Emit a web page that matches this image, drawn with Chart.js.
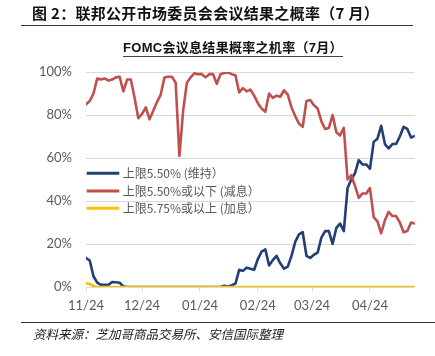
<!DOCTYPE html>
<html><head><meta charset="utf-8">
<script src="https://cdn.jsdelivr.net/npm/chart.js@4/dist/chart.umd.min.js"></script>
<style>
html,body{margin:0;padding:0;background:#fff;}
#wrap{position:relative;width:435px;height:356px;overflow:hidden;}
#title{position:absolute;left:32px;top:3px;font:bold 15px "Noto Sans CJK SC";color:#111;white-space:nowrap;line-height:20px;letter-spacing:0.3px}
#rule1{position:absolute;left:21px;top:24.5px;width:392px;height:1.5px;background:#333}
#sub{position:absolute;left:123px;top:40px;font:bold 13px "Liberation Sans","Noto Sans CJK SC";color:#111;white-space:nowrap;border-bottom:1px solid #444;line-height:16px;letter-spacing:0.3px}
#rule2{position:absolute;left:21px;top:322px;width:414px;height:1px;background:#333}
#foot{position:absolute;left:33px;top:325px;font:italic 12.5px "Noto Sans CJK SC";color:#222;white-space:nowrap;line-height:18px}
canvas{position:absolute;left:0;top:0}
</style></head>
<body>
<div id="wrap">
<canvas id="c" width="435" height="356"></canvas>
<div id="title">图 2：联邦公开市场委员会会议结果之概率（7 月）</div>
<div id="rule1"></div>
<div id="sub">FOMC会议息结果概率之机率（7月）</div>
<div id="rule2"></div>
<div id="foot">资料来源：芝加哥商品交易所、安信国际整理</div>
</div>
<script>
// Days since 2023-11-24, sampled every 2 days
const dayStep = 2;
const tickLabels = ['11/24','12/24','01/24','02/24','03/24','04/24'];
const tickDays = [0, 30, 61, 92, 121, 152];
const seriesNames = ['上限5.50% (维持）', '上限5.50%或以下 (减息）', '上限5.75%或以上 (加息）'];

const holdValues = [13.5,12.3,5,2,1,1,1,2.3,2.2,2,
  0.3,0,0,0,0,0,0,0,0,0,
  0,0,0,0,0,0,0,0,0,0,
  0,0,0,0,0,0,0,0.6,0.2,0.8,
  1.6,8,7.5,9,8.5,8,13,16.5,17.5,10,
  12.5,14.5,11,8.5,9.5,14.5,21,24.5,25.5,14.5,
  13.5,15,16,23,26,26,20,27.5,29.5,26,
  46,50,53,59,57,57,55,67.5,69,75,
  66.5,64.5,66.5,66.5,70,74.5,73.5,69.5,70.3];

const cutValues = [85,86.5,90,97,96.5,97,96,96.5,97.5,97.8,
  91,96.5,96.5,88,78.5,80.5,83.5,78,82,86,
  89.5,97.4,97.8,97.8,95,61,82,95,97.5,99.4,
  99,99,97.5,99,99,94.5,99,99.5,99.8,99,
  98.5,90.5,92.5,91,91.8,89,85.5,83,81.5,90,
  88,89,88.5,91.5,89.5,83.5,79.5,76,74.5,86.5,
  87,84.5,83,77,73.5,74,80,72,70.5,74,
  50,52,47,41.5,43.5,43.5,46,32.5,30.5,25,
  31,35,33,33,30,25.5,26,30,29.5];

const hikeValues = [1.7,1.4,0.5,0,0,0,0,0,0,0,
  0,0,0,0,0,0,0,0,0,0,
  0,0,0,0,0,0,0,0,0,0,
  0,0,0,0,0,0,0,0,0,0,
  0,0,0,0,0,0,0,0,0,0,
  0,0,0,0,0,0,0,0,0,0,
  0,0,0,0,0,0,0,0,0,0,
  0,0,0,0,0,0,0,0,0,0,
  0,0,0,0,0,0,0,0,0];

const yTicks = [0, 20, 40, 60, 80, 100];

const toPts = arr => arr.map((v, i) => ({x: i * dayStep, y: v}));
const colors = ['#223f73', '#c0504d', '#ffc000'];

const innerLegend = {
  id: 'innerLegend',
  afterDraw(chart) {
    const ctx = chart.ctx, a = chart.chartArea;
    const offs = [101.3, 119, 136.3];
    ctx.save();
    chart.data.datasets.forEach((ds, i) => {
      const y = a.top + offs[i];
      ctx.strokeStyle = ds.borderColor;
      ctx.lineWidth = 3;
      ctx.beginPath();
      ctx.moveTo(a.left + 0.7, y);
      ctx.lineTo(a.left + 33.3, y);
      ctx.stroke();
      ctx.fillStyle = '#595959';
      ctx.font = '12px "Noto Sans CJK SC"';
      ctx.textBaseline = 'middle';
      ctx.textAlign = 'left';
      ctx.fillText(ds.label, a.left + 36.7, y + 0.5);
    });
    ctx.restore();
  }
};

new Chart(document.getElementById('c'), {
  type: 'line',
  data: {
    datasets: [
      {label: seriesNames[0], data: toPts(holdValues), borderColor: colors[0], order: 2},
      {label: seriesNames[1], data: toPts(cutValues), borderColor: colors[1], order: 1},
      {label: seriesNames[2], data: toPts(hikeValues), borderColor: colors[2], order: 0}
    ]
  },
  options: {
    responsive: false,
    animation: false,
    devicePixelRatio: 1,
    layout: {padding: {left: 0, top: 72, right: 20.2, bottom: 0}},
    elements: {
      line: {borderWidth: 2.6, tension: 0, fill: false, borderCapStyle: 'round', borderJoinStyle: 'round'},
      point: {radius: 0}
    },
    plugins: {legend: {display: false}, tooltip: {enabled: false}, title: {display: false}},
    scales: {
      x: {
        type: 'linear', min: 0, max: 176,
        afterFit(s) { s.height = 69; },
        afterBuildTicks(s) { s.ticks = tickDays.map(v => ({value: v})); },
        grid: {drawOnChartArea: false, drawTicks: true, tickLength: 4, color: '#d9d9d9'},
        border: {display: true, color: '#d9d9d9', width: 1},
        ticks: {
          autoSkip: false, maxRotation: 0, padding: 7,
          color: '#595959', font: {family: 'Lato', size: 13},
          callback: v => tickLabels[tickDays.indexOf(v)]
        }
      },
      y: {
        min: 0, max: 100,
        afterFit(s) { s.width = 86; },
        afterBuildTicks(s) { s.ticks = yTicks.map(v => ({value: v})); },
        grid: {drawTicks: false, color: '#d9d9d9', lineWidth: 1},
        border: {display: false},
        ticks: {
          padding: 14, color: '#595959', font: {family: 'Lato', size: 13},
          callback: v => v + '%'
        }
      }
    }
  },
  plugins: [innerLegend]
});
</script>
</body></html>
